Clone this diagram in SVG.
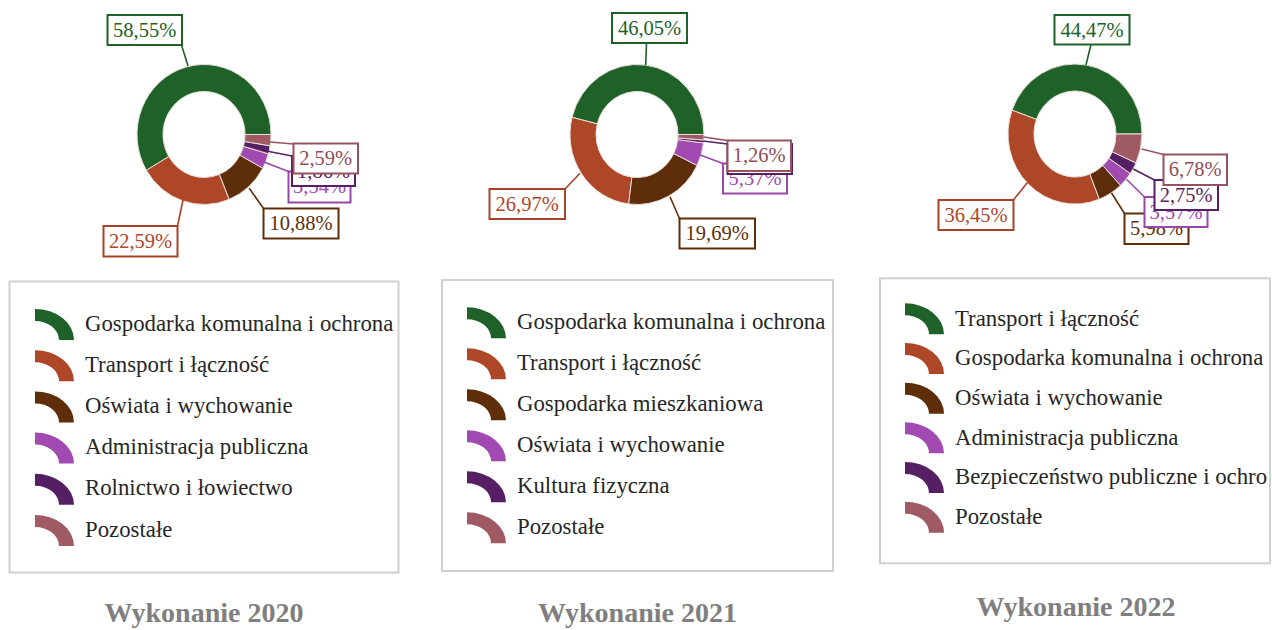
<svg xmlns="http://www.w3.org/2000/svg" width="1272" height="630" viewBox="0 0 1272 630">
<style>
.t{font-family:"Liberation Serif","Times New Roman",serif}
.lbl{font-size:20.5px;text-anchor:middle}
.leg{font-size:22.8px;fill:#262626}
.ttl{font-size:28px;font-weight:bold;fill:#7f7f7f;text-anchor:middle}
.sl{stroke:#eadfd9;stroke-width:1}
.box{fill:#fff;stroke-width:2}
.ld{fill:none;stroke-width:1.6}
.lgbox{fill:#fff;stroke:#d0d0d0;stroke-width:2}
.f1{fill:#1e6129}.s1{stroke:#1e6129}
.f2{fill:#ae4628}.s2{stroke:#a8432a}
.f3{fill:#5e2e0a}.s3{stroke:#5e2e0a}
.f4{fill:#a14ab1}.s4{stroke:#9a47a8}
.f5{fill:#561f63}.s5{stroke:#561f63}
.f6{fill:#a05a64}.s6{stroke:#95535d}
.x6{fill:#8f4d57}
</style>
<defs>
<path id="ico" d="M0,0 A39,31 0 0 1 39,31 L24,31 A24,19 0 0 0 0,12 Z"/>
<clipPath id="clip3"><rect x="880" y="278" width="388" height="286"/></clipPath>
</defs>
<rect width="1272" height="630" fill="#fff"/>

<!-- Donut 2020 -->
<g id="donut2020">
<path class="f1 sl" d="M271,134.5 A67,70 0 1 0 146.44,170.32 L168.78,156.5 A41,43 0 1 1 245,134.5 Z"/>
<path class="f2 sl" d="M146.44,170.32 A67,70 0 0 0 229.21,199.36 L219.42,174.34 A41,43 0 0 1 168.78,156.5 Z"/>
<path class="f3 sl" d="M229.21,199.36 A67,70 0 0 0 262.75,168.15 L239.95,155.17 A41,43 0 0 1 219.42,174.34 Z"/>
<path class="f4 sl" d="M262.75,168.15 A67,70 0 0 0 268.41,153.77 L243.42,146.34 A41,43 0 0 1 239.95,155.17 Z"/>
<path class="f5 sl" d="M268.41,153.77 A67,70 0 0 0 270.12,145.83 L244.46,141.46 A41,43 0 0 1 243.42,146.34 Z"/>
<path class="f6 sl" d="M270.12,145.83 A67,70 0 0 0 271,134.5 L245,134.5 A41,43 0 0 1 244.46,141.46 Z"/>
</g>

<!-- Donut 2021 -->
<g id="donut2021">
<path class="f1 sl" d="M704,134.5 A67,70 0 0 0 572.05,117.3 L597.25,123.93 A41,43 0 0 1 678,134.5 Z"/>
<path class="f2 sl" d="M572.05,117.3 A67,70 0 0 0 628.69,203.96 L631.91,177.17 A41,43 0 0 1 597.25,123.93 Z"/>
<path class="f3 sl" d="M628.69,203.96 A67,70 0 0 0 697.09,165.45 L673.77,153.51 A41,43 0 0 1 631.91,177.17 Z"/>
<path class="f4 sl" d="M697.09,165.45 A67,70 0 0 0 703.51,142.92 L677.7,139.67 A41,43 0 0 1 673.77,153.51 Z"/>
<path class="f5 sl" d="M703.51,142.92 A67,70 0 0 0 703.79,140.04 L677.87,137.91 A41,43 0 0 1 677.7,139.67 Z"/>
<path class="f6 sl" d="M703.79,140.04 A67,70 0 0 0 704,134.5 L678,134.5 A41,43 0 0 1 677.87,137.91 Z"/>
</g>

<!-- Donut 2022 -->
<g id="donut2022">
<path class="f1 sl" d="M1142,134 A67,70 0 0 0 1012.01,110.16 L1036.45,119.36 A41,43 0 0 1 1116,134 Z"/>
<path class="f2 sl" d="M1012.01,110.16 A67,70 0 0 0 1099.35,199.21 L1089.9,174.06 A41,43 0 0 1 1036.45,119.36 Z"/>
<path class="f3 sl" d="M1099.35,199.21 A67,70 0 0 0 1120.55,185.34 L1102.87,165.54 A41,43 0 0 1 1089.9,174.06 Z"/>
<path class="f4 sl" d="M1120.55,185.34 A67,70 0 0 0 1130.34,173.46 L1108.87,158.24 A41,43 0 0 1 1102.87,165.54 Z"/>
<path class="f5 sl" d="M1130.34,173.46 A67,70 0 0 0 1136.01,162.93 L1112.33,151.77 A41,43 0 0 1 1108.87,158.24 Z"/>
<path class="f6 sl" d="M1136.01,162.93 A67,70 0 0 0 1142,134 L1116,134 A41,43 0 0 1 1112.33,151.77 Z"/>
</g>

<!-- Connectors -->
<g id="connectors" class="ld">
<line class="s1" x1="188" y1="66" x2="181.5" y2="45"/>
<line class="s2" x1="183" y1="200" x2="177.5" y2="226"/>
<line class="s3" x1="249.3" y1="188.3" x2="263.5" y2="208.5"/>
<line class="s4" x1="264" y1="162" x2="288.5" y2="171.5"/>
<line class="s5" x1="266.5" y1="151" x2="292" y2="156"/>
<line class="s6" x1="270" y1="142" x2="293.5" y2="144"/>

<line class="s1" x1="646.5" y1="43" x2="645.7" y2="65"/>
<line class="s2" x1="580" y1="173.3" x2="565" y2="189"/>
<line class="s3" x1="670" y1="196.7" x2="679.5" y2="218.5"/>
<line class="s4" x1="700" y1="155" x2="723" y2="163.5"/>
<line class="s5" x1="703" y1="141" x2="727.5" y2="144"/>
<line class="s6" x1="703.5" y1="137" x2="727.5" y2="140.5"/>

<line class="s1" x1="1091" y1="44.3" x2="1086" y2="65"/>
<line class="s2" x1="1027.3" y1="182.7" x2="1013.3" y2="200"/>
<line class="s3" x1="1111.5" y1="193" x2="1124.5" y2="213.5"/>
<line class="s4" x1="1126.7" y1="179.5" x2="1144.5" y2="197"/>
<line class="s5" x1="1133.3" y1="169" x2="1154.5" y2="180"/>
<line class="s6" x1="1141.7" y1="149" x2="1163.5" y2="154.5"/>
</g>

<!-- Labels 2020 -->
<g id="lbl2020-gk"><rect class="box s1" x="107.5" y="15" width="74.5" height="30"/><text class="t lbl f1" x="144.7" y="36.5">58,55%</text></g>
<g id="lbl2020-tl"><rect class="box s2" x="103.5" y="226" width="74" height="30.5"/><text class="t lbl f2" x="140.5" y="247.5">22,59%</text></g>
<g id="lbl2020-ow"><rect class="box s3" x="263.5" y="208.5" width="75" height="30"/><text class="t lbl f3" x="301" y="230">10,88%</text></g>
<g id="lbl2020-ap"><rect class="box s4" x="288.5" y="171.5" width="62" height="31"/><text class="t lbl f4" x="319.5" y="193">3,54%</text></g>
<g id="lbl2020-rl"><rect class="box s5" x="292" y="156" width="63" height="30"/><text class="t lbl f5" x="323.5" y="177.5">1,86%</text></g>
<g id="lbl2020-po"><rect class="box s6" x="293.5" y="143.5" width="64.5" height="30"/><text class="t lbl x6" x="325.7" y="165">2,59%</text></g>

<!-- Labels 2021 -->
<g id="lbl2021-gk"><rect class="box s1" x="612" y="13" width="75" height="30"/><text class="t lbl f1" x="649.5" y="34.5">46,05%</text></g>
<g id="lbl2021-tl"><rect class="box s2" x="489.5" y="189" width="75.5" height="30"/><text class="t lbl f2" x="527.2" y="210.5">26,97%</text></g>
<g id="lbl2021-gm"><rect class="box s3" x="679.5" y="218.5" width="75.5" height="30"/><text class="t lbl f3" x="717.2" y="240">19,69%</text></g>
<g id="lbl2021-ow"><rect class="box s4" x="723" y="163.5" width="64" height="30"/><text class="t lbl f4" x="755" y="185">5,37%</text></g>
<g id="lbl2021-kf"><rect class="box s5" x="727.5" y="144" width="64.5" height="30"/></g>
<g id="lbl2021-po"><rect class="box s6" x="727.5" y="140.5" width="63.5" height="30.5"/><text class="t lbl x6" x="759.2" y="162">1,26%</text></g>

<!-- Labels 2022 -->
<g id="lbl2022-tl"><rect class="box s1" x="1054.5" y="15" width="75" height="29.5"/><text class="t lbl f1" x="1092" y="36.5">44,47%</text></g>
<g id="lbl2022-gk"><rect class="box s2" x="938.5" y="200" width="75" height="30"/><text class="t lbl f2" x="976" y="221.5">36,45%</text></g>
<g id="lbl2022-ow"><rect class="box s3" x="1124.5" y="213.5" width="64" height="30.5"/><text class="t lbl f3" x="1156.5" y="235">5,98%</text></g>
<g id="lbl2022-ap"><rect class="box s4" x="1144.5" y="197" width="63" height="30"/><text class="t lbl f4" x="1176" y="218.5">3,57%</text></g>
<g id="lbl2022-bp"><rect class="box s5" x="1154.5" y="180" width="63.5" height="30"/><text class="t lbl f5" x="1186.2" y="201.5">2,75%</text></g>
<g id="lbl2022-po"><rect class="box s6" x="1163.5" y="154.5" width="63.5" height="30.5"/><text class="t lbl x6" x="1195.2" y="176">6,78%</text></g>

<!-- Legend 2020 -->
<g id="legend2020">
<rect class="lgbox" x="9.5" y="281.5" width="389" height="291"/>
<use href="#ico" class="f1" x="35" y="309"/>
<use href="#ico" class="f2" x="35" y="350.2"/>
<use href="#ico" class="f3" x="35" y="391.4"/>
<use href="#ico" class="f4" x="35" y="432.6"/>
<use href="#ico" class="f5" x="35" y="473.8"/>
<use href="#ico" class="f6" x="35" y="515"/>
<text class="t leg" x="85" y="330.5">Gospodarka komunalna i ochrona</text>
<text class="t leg" x="85" y="371.7">Transport i łączność</text>
<text class="t leg" x="85" y="412.9">Oświata i wychowanie</text>
<text class="t leg" x="85" y="454.1">Administracja publiczna</text>
<text class="t leg" x="85" y="495.3">Rolnictwo i łowiectwo</text>
<text class="t leg" x="85" y="536.5">Pozostałe</text>
</g>

<!-- Legend 2021 -->
<g id="legend2021">
<rect class="lgbox" x="442" y="280" width="391" height="291"/>
<use href="#ico" class="f1" x="467" y="307.3"/>
<use href="#ico" class="f2" x="467" y="348.3"/>
<use href="#ico" class="f3" x="467" y="389.3"/>
<use href="#ico" class="f4" x="467" y="430.3"/>
<use href="#ico" class="f5" x="467" y="471.3"/>
<use href="#ico" class="f6" x="467" y="512.3"/>
<text class="t leg" x="517" y="329.3">Gospodarka komunalna i ochrona</text>
<text class="t leg" x="517" y="370.3">Transport i łączność</text>
<text class="t leg" x="517" y="411.3">Gospodarka mieszkaniowa</text>
<text class="t leg" x="517" y="452.3">Oświata i wychowanie</text>
<text class="t leg" x="517" y="493.3">Kultura fizyczna</text>
<text class="t leg" x="517" y="534.3">Pozostałe</text>
</g>

<!-- Legend 2022 -->
<g id="legend2022">
<rect class="lgbox" x="880" y="278.3" width="390" height="285"/>
<use href="#ico" class="f1" x="905" y="303.3"/>
<use href="#ico" class="f2" x="905" y="343"/>
<use href="#ico" class="f3" x="905" y="382.7"/>
<use href="#ico" class="f4" x="905" y="422.3"/>
<use href="#ico" class="f5" x="905" y="462"/>
<use href="#ico" class="f6" x="905" y="501.7"/>
<g clip-path="url(#clip3)">
<text class="t leg" x="955" y="325.5">Transport i łączność</text>
<text class="t leg" x="955" y="365.2">Gospodarka komunalna i ochrona</text>
<text class="t leg" x="955" y="404.9">Oświata i wychowanie</text>
<text class="t leg" x="955" y="444.6">Administracja publiczna</text>
<text class="t leg" x="955" y="484.3">Bezpieczeństwo publiczne i ochro</text>
<text class="t leg" x="955" y="524">Pozostałe</text>
</g>
</g>

<!-- Titles -->
<text id="title2020" class="t ttl" x="204" y="622">Wykonanie 2020</text>
<text id="title2021" class="t ttl" x="637.5" y="622">Wykonanie 2021</text>
<text id="title2022" class="t ttl" x="1076" y="615.5">Wykonanie 2022</text>
</svg>
